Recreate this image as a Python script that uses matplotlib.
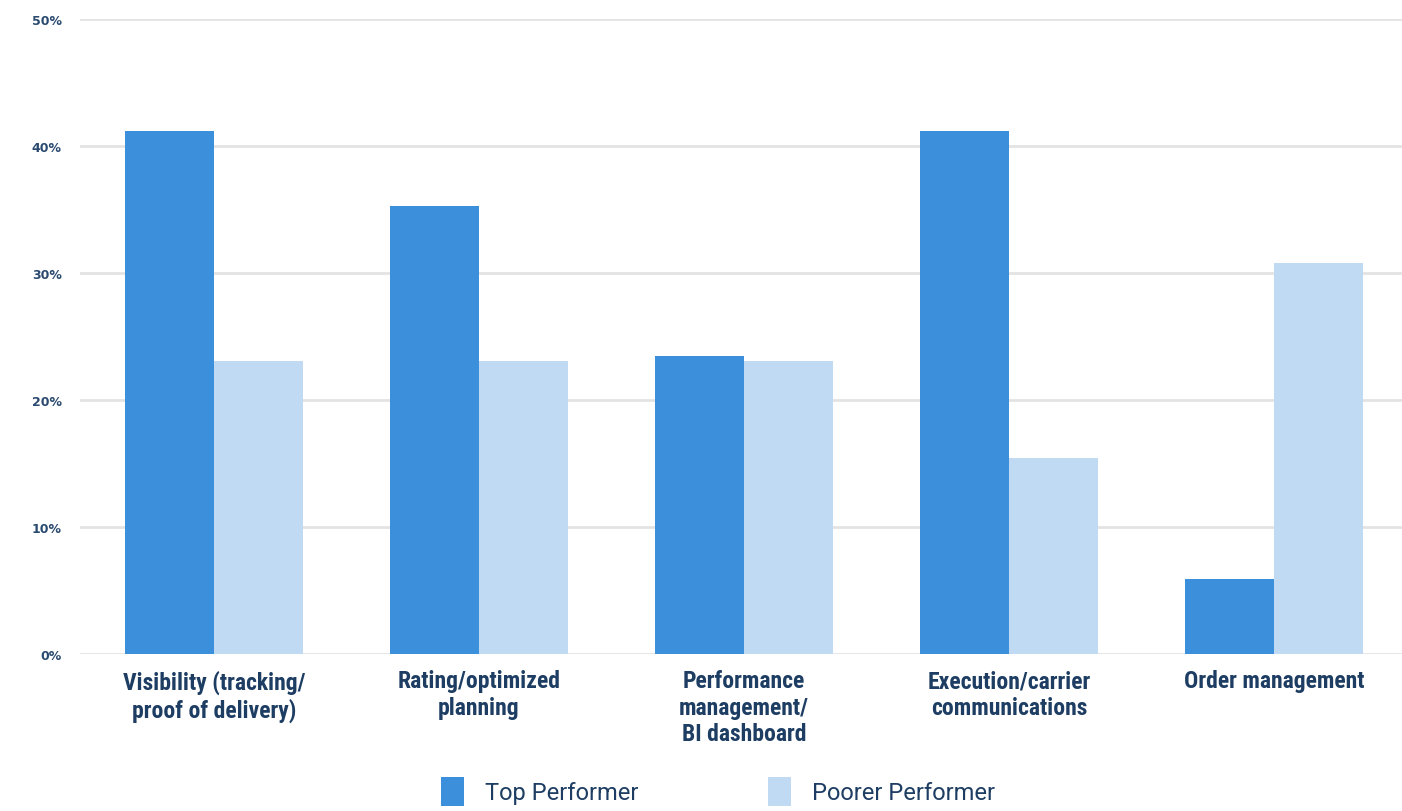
import matplotlib
matplotlib.use("Agg")
import matplotlib.pyplot as plt
import numpy as np
from matplotlib.patches import Patch

categories = ["Visibility (tracking/\nproof of delivery)", "Rating/optimized\nplanning",
              "Performance\nmanagement/\nBI dashboard", "Execution/carrier\ncommunications",
              "Order management"]
top_performer = [41.2, 35.3, 23.5, 41.2, 5.9]
poorer_performer = [23.1, 23.1, 23.1, 15.4, 30.8]
series_names = ["Top Performer", "Poorer Performer"]
yticks = [0, 10, 20, 30, 40, 50]

c_top = "#3b8fdb"
c_poor = "#bfdaf2"
txt = "#1d3d63"
cond = ["Roboto Condensed", "Liberation Sans Narrow", "DejaVu Sans"]

fig = plt.figure(figsize=(14.02, 8.12), dpi=100)
ax = fig.add_axes([0.057, 1 - 655 / 812, 0.943, 635 / 812])

x = np.arange(len(categories))
w = 0.336
ax.bar(x - w / 2, top_performer, width=w, color=c_top, zorder=3)
ax.bar(x + w / 2, poorer_performer, width=w, color=c_poor, zorder=3)

ax.set_xlim(-0.506, 4.483)
ax.set_ylim(0, 50)
ax.set_yticks(yticks)
ax.set_yticklabels([f"{v}%" for v in yticks], fontsize=9, fontweight="bold",
                   color="#2a4a70", family="DejaVu Sans")
ax.yaxis.grid(True, color="#e3e3e3", linewidth=2, zorder=0)
ax.tick_params(axis="y", length=0, pad=13)
ax.tick_params(axis="x", length=0, pad=11)
ax.set_xticks(x)
ax.set_xticklabels(categories, fontsize=17, fontweight="bold", color=txt,
                   family=cond, linespacing=1.2, va="top")
for s in ax.spines.values():
    s.set_visible(False)

handles = [Patch(facecolor=c_top), Patch(facecolor=c_poor)]
fig.legend(handles, series_names, loc="lower left", bbox_to_anchor=(420 / 1402, -0.02),
           ncol=2, frameon=False, handlelength=0.95, handleheight=1.5,
           handletextpad=0.9, columnspacing=5.5, labelcolor=txt,
           prop={"family": ["Roboto", "DejaVu Sans"], "size": 17})

fig.savefig("out.png", dpi=100)
